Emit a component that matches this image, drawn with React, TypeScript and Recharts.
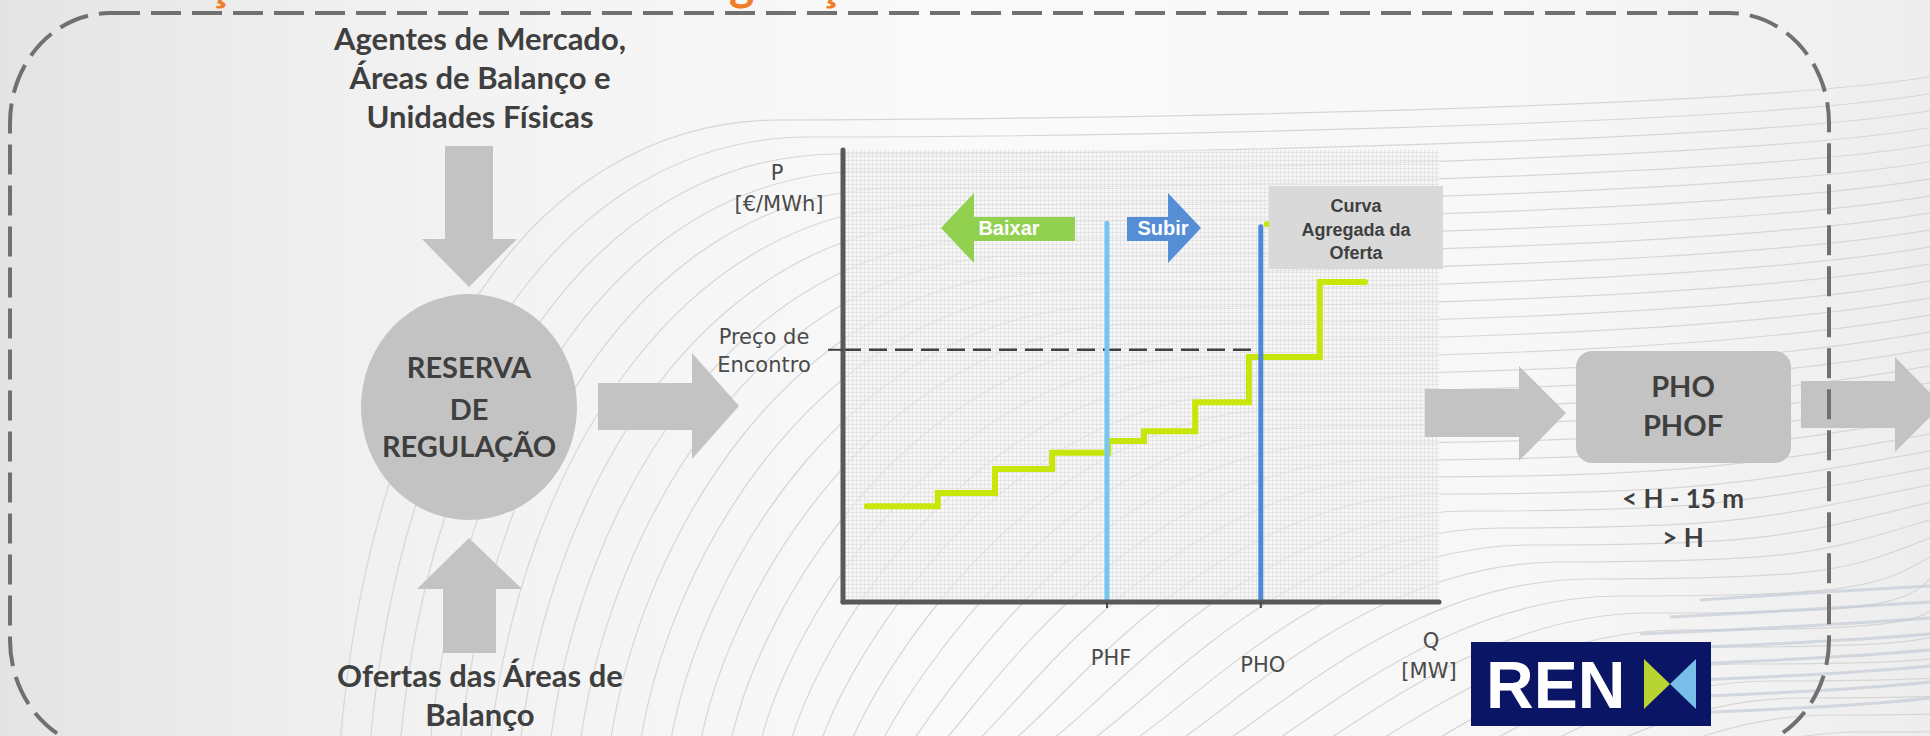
import React from 'react';
import { ComposedChart, Line, XAxis, YAxis, CartesianGrid } from 'recharts';

// Curva Agregada da Oferta (step points: quantity Q and price P)
const offerQuantity = [4.0, 15.9, 25.5, 35.1, 44.5, 50.5, 59.1, 68.1, 80.0, 87.6];
const offerPrice = [21.2, 24.1, 29.4, 33.0, 35.6, 37.8, 44.2, 54.2, 70.8, 70.8];
const upperStepQuantity = [71.1, 100];
const upperStepPrice = [83.6, 83.6];
const phfQuantity = 44.3;
const phfTopPrice = 83.8;
const phoQuantity = 70.1;
const phoTopPrice = 83.0;
const meetingPrice = 55.8;
const xTickValues = [phfQuantity, phoQuantity];
const xTickLabels = ['PHF', 'PHO'];
const yTickValues = [meetingPrice];
const yTickLabels = ['Preço de', 'Encontro'];
const yAxisTitle = ['P', '[€/MWh]'];
const xAxisTitle = ['Q', '[MW]'];

const offerData = offerQuantity.map((q, i) => ({ q, p: offerPrice[i] }));
const upperData = upperStepQuantity.map((q, i) => ({ q, p: upperStepPrice[i] }));
const phfData = [{ q: phfQuantity, p: 0 }, { q: phfQuantity, p: phfTopPrice }];
const phoData = [{ q: phoQuantity, p: 0 }, { q: phoQuantity, p: phoTopPrice }];
const meetingData = [{ q: 0, p: meetingPrice }, { q: phoQuantity, p: meetingPrice }];

const GRAY = '#c3c3c3';
const TEXT = '#3f3f3f';
const LABEL = '#4a4a4a';
const boldFont = { fontFamily: 'Lato', fontWeight: 700 } as const;
const labelFont = { fontFamily: 'DejaVu Sans', fontSize: 21, fill: LABEL } as const;

const XTick = (props: any) => {
  const { x, y, payload } = props;
  const i = xTickValues.indexOf(payload.value);
  const dx = i === 0 ? 4 : 2;
  const dy = i === 0 ? 55 : 62;
  return (
    <text x={x + dx} y={y + dy} textAnchor="middle" {...labelFont}>
      {xTickLabels[i]}
    </text>
  );
};

const YTick = (props: any) => {
  const { x, y } = props;
  return (
    <g>
      <text x={x - 62} y={y - 6} textAnchor="middle" {...labelFont}>{yTickLabels[0]}</text>
      <text x={x - 62} y={y + 22} textAnchor="middle" {...labelFont}>{yTickLabels[1]}</text>
    </g>
  );
};

const YTitle = (props: any) => {
  const vb = props.viewBox || { x: 0, y: 150, width: 843, height: 452 };
  const cx = vb.x + vb.width - 66;
  return (
    <g>
      <text x={cx} y={vb.y + 30} textAnchor="middle" {...labelFont}>{yAxisTitle[0]}</text>
      <text x={cx + 2} y={vb.y + 61} textAnchor="middle" {...labelFont}>{yAxisTitle[1]}</text>
    </g>
  );
};

const XTitle = (props: any) => {
  const vb = props.viewBox || { x: 843, y: 602, width: 596, height: 134 };
  const cx = vb.x + vb.width - 8;
  return (
    <g>
      <text x={cx} y={vb.y + 46} textAnchor="middle" {...labelFont}>{xAxisTitle[0]}</text>
      <text x={cx - 2} y={vb.y + 76} textAnchor="middle" {...labelFont}>{xAxisTitle[1]}</text>
    </g>
  );
};

const Background = () => {
  const waves: string[] = [];
  for (let i = 0; i < 40; i++) {
    const a = 340 + i * 30;
    const y = 120 + i * 17;
    waves.push(
      `M${a} 745 C ${a + 30} ${y + 260} ${a + 190} ${y} ${a + 440} ${y} S ${Math.max(a + 700, 1750)} ${y - 10} 1940 ${y - 45}`
    );
  }
  const bands = [0, 1, 2, 3, 4, 5, 6, 7];
  return (
    <svg width={1930} height={736} style={{ position: 'absolute', left: 0, top: 0 }}>
      <defs>
        <linearGradient id="bgGrad" x1="0" y1="0" x2="1" y2="0">
          <stop offset="0" stopColor="#e4e4e4" />
          <stop offset="0.2" stopColor="#f1f1f1" />
          <stop offset="0.5" stopColor="#fafafa" />
          <stop offset="0.8" stopColor="#f7f7f7" />
          <stop offset="1" stopColor="#ededed" />
        </linearGradient>
        <pattern id="mesh" width="4" height="4" patternUnits="userSpaceOnUse">
          <rect width="4" height="4" fill="#f4f4f4" fillOpacity="0.55" />
          <path d="M0 0.5H4M0.5 0V4" stroke="#d9d9d9" strokeWidth="1" strokeOpacity="0.55" />
        </pattern>
      </defs>
      <rect x={0} y={0} width={1930} height={736} fill="url(#bgGrad)" />
      <g fill="none" stroke="#d6d6d6" strokeWidth={1.2}>
        {waves.map((d, i) => (
          <path key={i} d={d} />
        ))}
      </g>
      <g fill="none" stroke="#c5cad4" strokeWidth={3} strokeOpacity={0.7}>
        {bands.map((i) => (
          <path key={i} d={`M${1700 - i * 30} ${600 + i * 17} Q 1820 ${592 + i * 17} 1930 ${586 + i * 16}`} />
        ))}
      </g>
    </svg>
  );
};

const Overlay = () => (
  <svg width={1930} height={736} style={{ position: 'absolute', left: 0, top: 0 }}>
    {/* cut-off title (only descenders visible) */}
    <text x={25} y={0} {...boldFont} fontSize={48} wordSpacing={18} fill="#f07d2a">
      Mobilização da Reserva de Regulação
    </text>

    {/* Input: Agentes de Mercado */}
    <g {...boldFont} fontSize={31} fill={TEXT} textAnchor="middle">
      <text x={480} y={50}>Agentes de Mercado,</text>
      <text x={480} y={89}>Áreas de Balanço e</text>
      <text x={480} y={128}>Unidades Físicas</text>
    </g>
    <polygon points="445,146 493,146 493,239 517,239 469,287 422,239 445,239" fill={GRAY} />

    {/* Reserva de Regulação circle */}
    <ellipse cx={469} cy={407} rx={108} ry={113} fill={GRAY} />
    <g {...boldFont} fontSize={29} fill={TEXT} textAnchor="middle">
      <text x={469} y={378}>RESERVA</text>
      <text x={469} y={420}>DE</text>
      <text x={469} y={457}>REGULAÇÃO</text>
    </g>

    {/* Input: Ofertas */}
    <polygon points="469,538 522,589 496,589 496,653 443,653 443,589 417,589" fill={GRAY} />
    <g {...boldFont} fontSize={31} fill={TEXT} textAnchor="middle">
      <text x={480} y={687}>Ofertas das Áreas de</text>
      <text x={480} y={726}>Balanço</text>
    </g>

    {/* arrow into chart */}
    <polygon points="598,383 692,383 692,353 739,406 692,459 692,430 598,430" fill={GRAY} />

    {/* Baixar / Subir */}
    <polygon points="941,228 974,193 974,217 1075,217 1075,241 974,241 974,263" fill="#92d050" />
    <text x={1009} y={235} textAnchor="middle" fontFamily="Liberation Sans" fontWeight={700} fontSize={20} fill="#ffffff">Baixar</text>
    <polygon points="1127,217 1168,217 1168,193 1201,228 1168,263 1168,241 1127,241" fill="#558ed5" />
    <text x={1163} y={235} textAnchor="middle" fontFamily="Liberation Sans" fontWeight={700} fontSize={20} fill="#ffffff">Subir</text>

    {/* Curva Agregada da Oferta box */}
    <rect x={1269} y={186} width={174} height={83} fill="#d9d9d9" />
    <g fontFamily="Liberation Sans" fontWeight={700} fontSize={18} fill={TEXT} textAnchor="middle">
      <text x={1356} y={212}>Curva</text>
      <text x={1356} y={236}>Agregada da</text>
      <text x={1356} y={259}>Oferta</text>
    </g>

    {/* PHO / PHOF block */}
    <polygon points="1425,389 1519,389 1519,366 1566,413 1519,461 1519,437 1425,437" fill={GRAY} />
    <rect x={1576} y={351} width={215} height={112} rx={16} ry={16} fill={GRAY} />
    <g {...boldFont} fontSize={29} fill={TEXT} textAnchor="middle">
      <text x={1683} y={397}>PHO</text>
      <text x={1683} y={436}>PHOF</text>
    </g>
    <g {...boldFont} fontSize={26} fill={TEXT} textAnchor="middle">
      <text x={1683} y={508}>{'< H - 15 m'}</text>
      <text x={1683} y={547}>{'> H'}</text>
    </g>
    <polygon points="1801,381 1895,381 1895,357 1942,405 1895,452 1895,428 1801,428" fill={GRAY} />

    {/* REN logo */}
    <rect x={1471} y={642} width={240} height={84} fill="#0b1566" />
    <text x={1486} y={708} fontFamily="Liberation Sans" fontWeight={700} fontSize={66} fill="#ffffff">REN</text>
    <polygon points="1644,659 1644,709 1670,684" fill="#b8d432" />
    <polygon points="1696,659 1696,709 1670,684" fill="#79bde9" />

    {/* dashed frame */}
    <rect x={10} y={13} width={1819} height={737} rx={100} ry={110} fill="none" stroke="#707070" strokeWidth={4} strokeDasharray="30 11" />
  </svg>
);

export default function App() {
  return (
    <div style={{ position: 'absolute', left: 0, top: 0, width: 1930, height: 736, overflow: 'hidden', background: '#f3f3f3' }}>
      <Background />
      <div style={{ position: 'absolute', left: 0, top: 0 }}>
        <ComposedChart width={1930} height={736} margin={{ top: 150, right: 491, bottom: 0, left: 0 }}>
          <CartesianGrid horizontal={false} vertical={false} fill="url(#mesh)" stroke="none" />
          <XAxis
            type="number"
            dataKey="q"
            domain={[0, 100]}
            ticks={xTickValues}
            interval={0}
            height={134}
            tickSize={6}
            tickLine={{ stroke: '#444444', strokeWidth: 2 }}
            axisLine={{ stroke: '#595959', strokeWidth: 5, strokeLinecap: 'round' }}
            tick={<XTick />}
            label={<XTitle />}
          />
          <YAxis
            type="number"
            dataKey="p"
            domain={[0, 100]}
            ticks={yTickValues}
            interval={0}
            width={843}
            tickSize={15}
            tickLine={{ stroke: '#404040', strokeWidth: 2 }}
            axisLine={{ stroke: '#595959', strokeWidth: 5, strokeLinecap: 'round' }}
            tick={<YTick />}
            label={<YTitle />}
          />
          <Line data={meetingData} dataKey="p" type="linear" stroke="#404040" strokeWidth={2.5} strokeDasharray="18 8" dot={false} activeDot={false} isAnimationActive={false} />
          <Line data={upperData} dataKey="p" type="linear" stroke="#c8e60a" strokeWidth={6} strokeLinecap="round" dot={false} activeDot={false} isAnimationActive={false} />
          <Line data={offerData} dataKey="p" type="stepAfter" stroke="#c8e60a" strokeWidth={6} strokeLinecap="round" dot={false} activeDot={false} isAnimationActive={false} />
          <Line data={phfData} dataKey="p" type="linear" stroke="#76c6f2" strokeWidth={5} strokeLinecap="round" dot={false} activeDot={false} isAnimationActive={false} />
          <Line data={phoData} dataKey="p" type="linear" stroke="#4d88d6" strokeWidth={5} strokeLinecap="round" dot={false} activeDot={false} isAnimationActive={false} />
        </ComposedChart>
      </div>
      <Overlay />
    </div>
  );
}
